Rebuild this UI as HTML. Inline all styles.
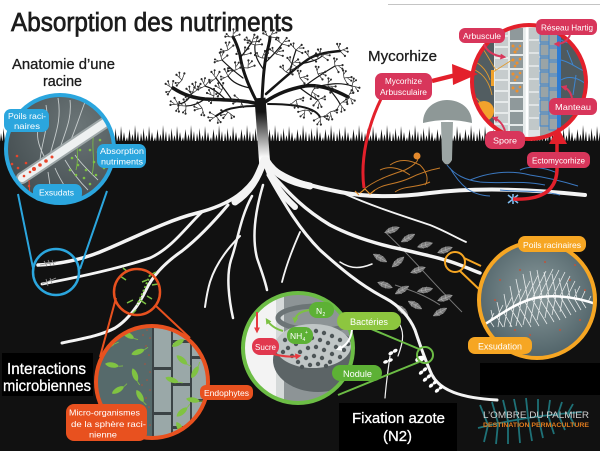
<!DOCTYPE html>
<html><head><meta charset="utf-8">
<style>html,body{margin:0;padding:0;background:#fff;overflow:hidden}svg{display:block}text{font-family:"Liberation Sans",Arial,sans-serif}</style>
</head><body>
<svg width="600" height="451" viewBox="0 0 600 451" xmlns="http://www.w3.org/2000/svg">
<defs>
<pattern id="grass" x="0" y="124" width="28" height="18" patternUnits="userSpaceOnUse">
<path d="M0,18 L1,9 L2.5,18 L3.5,4 L5,18 L6.5,11 L8,18 L9,2 L10.5,18 L12,8 L13.5,18 L15,13 L16,18 L17.5,5 L19,18 L20.5,10 L22,18 L23,1 L24.5,18 L26,7 L27,18 L28,18 Z" fill="#111"/>
</pattern>
<linearGradient id="trunk" x1="0" y1="112" x2="0" y2="158" gradientUnits="userSpaceOnUse"><stop offset="0" stop-color="#151515"/><stop offset="1" stop-color="#fff"/></linearGradient>
<radialGradient id="gBlue" cx="0.65" cy="0.3" r="0.8"><stop offset="0" stop-color="#6b7577"/><stop offset="1" stop-color="#3f484b"/></radialGradient>
<radialGradient id="gOr" cx="0.5" cy="0.45" r="0.6"><stop offset="0" stop-color="#8a9a9c"/><stop offset="1" stop-color="#4a5d63"/></radialGradient>
<clipPath id="cB"><circle cx="60" cy="149" r="54"/></clipPath>
<clipPath id="cR"><circle cx="152" cy="382" r="56"/></clipPath>
<clipPath id="cG"><circle cx="298" cy="348" r="55"/></clipPath>
<clipPath id="cO"><circle cx="537" cy="300" r="58"/></clipPath>
<clipPath id="cM"><circle cx="529" cy="82" r="57"/></clipPath>
<marker id="mp" viewBox="0 0 10 10" refX="6" refY="5" markerWidth="3" markerHeight="3" orient="auto"><path d="M0,0 L10,5 L0,10 z" fill="#d8365b"/></marker>
<marker id="mr" viewBox="0 0 10 10" refX="6" refY="5" markerWidth="3" markerHeight="3" orient="auto"><path d="M0,0 L10,5 L0,10 z" fill="#e63a3f"/></marker>
<marker id="mg" viewBox="0 0 10 10" refX="6" refY="5" markerWidth="3" markerHeight="3" orient="auto"><path d="M0,0 L10,5 L0,10 z" fill="#7cc143"/></marker>
<marker id="mw" viewBox="0 0 10 10" refX="6" refY="5" markerWidth="3" markerHeight="3" orient="auto"><path d="M0,0 L10,5 L0,10 z" fill="#fff"/></marker>
<g id="tw"><path d="M0,0 L-7,-3 M0,0 L3,-7 M0,0 L7,0 M-3,-1 L-5,-5 M2,-3 L6,-5" stroke="#2a2a2a" stroke-width="0.7" fill="none"/><g fill="#2a2a2a"><circle cx="-7" cy="-3" r="1.1"/><circle cx="3" cy="-7" r="1.1"/><circle cx="7" cy="0" r="1.1"/><circle cx="-5" cy="-5" r="1"/><circle cx="6" cy="-5" r="1"/></g></g>
<g id="bac"><path d="M-7,0 C-4,-3.5 4,-3.5 7,0 C4,3.5 -4,3.5 -7,0 Z" fill="#80c342"/><path d="M7,0 L11,-1" stroke="#80c342" stroke-width="0.8"/></g>
<g id="fn"><path d="M-8,0 C-4,-4 4,-4 8,0 C4,4 -4,4 -8,0 Z" fill="#7a7a7a"/><path d="M-8,0 L8,0 M-4,0 L-2,-3 M0,0 L2,-3 M-4,0 L-2,3 M0,0 L2,3" stroke="#b5b5b5" stroke-width="0.5" fill="none"/></g>
<g id="nd"><ellipse cx="-2.5" cy="0" rx="2.6" ry="1.7" fill="#fff"/><ellipse cx="2.5" cy="0" rx="2.6" ry="1.7" fill="#fff"/></g>
</defs>

<rect width="600" height="451" fill="#fff"/>
<line x1="388" y1="4.5" x2="600" y2="4.5" stroke="#c4c4c4" stroke-width="1"/>
<rect x="0" y="141" width="600" height="310" fill="#111"/>
<rect x="0" y="124" width="600" height="18" fill="url(#grass)"/>

<!-- Title -->
<text x="11" y="31" font-size="25.5" fill="#1c1c1c" stroke="#1c1c1c" stroke-width="0.7" textLength="282" lengthAdjust="spacingAndGlyphs">Absorption des nutriments</text>
<text x="12" y="69" font-size="14.5" fill="#1c1c1c" stroke="#1c1c1c" stroke-width="0.3" textLength="103" lengthAdjust="spacingAndGlyphs">Anatomie d’une</text>
<text x="43" y="86" font-size="14.5" fill="#1c1c1c" stroke="#1c1c1c" stroke-width="0.3" textLength="39" lengthAdjust="spacingAndGlyphs">racine</text>
<text x="368" y="61" font-size="15" fill="#1c1c1c" stroke="#1c1c1c" stroke-width="0.3" textLength="69" lengthAdjust="spacingAndGlyphs">Mycorhize</text>

<!-- Tree crown -->
<g fill="none" stroke="#151515" stroke-linecap="round">
<path d="M258,104 C245,100 225,100 205,99 C192,98 182,94 173,88" stroke-width="3.5"/>
<path d="M257,102 C248,85 242,70 240,55 C238,48 236,42 233,37" stroke-width="3"/>
<path d="M262,100 C263,80 264,62 268,48 C269,44 270,40 270,37" stroke-width="3"/>
<path d="M265,102 C278,93 290,89 305,86 C320,84 335,90 348,97" stroke-width="3.5"/>
<path d="M266,94 C282,80 295,68 310,58 C320,53 330,52 340,51" stroke-width="2.5"/>
<path d="M268,104 C290,104 303,106 312,110 C316,112 319,115 320,117" stroke-width="2"/>
<path d="M256,106 C240,106 232,108 226,110 C222,112 219,114 216,116" stroke-width="2"/>
<g stroke-width="1.2">
<path d="M225,99 C218,92 212,88 205,86"/>
<path d="M205,99 C198,104 192,106 186,106"/>
<path d="M243,78 C235,72 228,66 222,60"/>
<path d="M240,58 C245,52 248,48 252,42"/>
<path d="M264,70 C258,62 254,55 255,45"/>
<path d="M266,62 C272,56 278,50 282,44"/>
<path d="M290,72 C292,62 294,56 296,50"/>
<path d="M300,64 C310,62 318,60 322,56"/>
<path d="M305,86 C315,78 325,72 335,66"/>
<path d="M320,86 C330,84 340,82 352,86"/>
<path d="M330,90 C335,96 338,100 340,104"/>
<path d="M300,88 C308,94 314,98 318,100"/>
<path d="M232,100 C228,94 222,86 216,78"/>
<path d="M250,88 C240,86 232,82 228,76"/>
<path d="M190,97 C186,102 182,104 178,104"/>
</g>
</g>
<use href="#tw" transform="translate(172,88) rotate(-80)"/>
<use href="#tw" transform="translate(182,80) rotate(-70)"/>
<use href="#tw" transform="translate(186,106) rotate(-110)"/>
<use href="#tw" transform="translate(197,90) rotate(-60)"/>
<use href="#tw" transform="translate(178,104) rotate(-120)"/>
<use href="#tw" transform="translate(205,86) rotate(-50)"/>
<use href="#tw" transform="translate(222,60) rotate(-40)"/>
<use href="#tw" transform="translate(233,37) rotate(-20)"/>
<use href="#tw" transform="translate(228,50) rotate(-40)"/>
<use href="#tw" transform="translate(252,42) rotate(-5)"/>
<use href="#tw" transform="translate(216,78) rotate(-60)"/>
<use href="#tw" transform="translate(255,45) rotate(-5)"/>
<use href="#tw" transform="translate(270,37) rotate(5)"/>
<use href="#tw" transform="translate(282,44) rotate(15)"/>
<use href="#tw" transform="translate(296,50) rotate(25)"/>
<use href="#tw" transform="translate(310,58) rotate(30)"/>
<use href="#tw" transform="translate(322,56) rotate(35)"/>
<use href="#tw" transform="translate(340,51) rotate(45)"/>
<use href="#tw" transform="translate(335,66) rotate(60)"/>
<use href="#tw" transform="translate(348,97) rotate(95)"/>
<use href="#tw" transform="translate(352,86) rotate(80)"/>
<use href="#tw" transform="translate(340,104) rotate(120)"/>
<use href="#tw" transform="translate(318,100) rotate(130)"/>
<use href="#tw" transform="translate(320,117) rotate(150)"/>
<use href="#tw" transform="translate(305,110) rotate(165)"/>
<use href="#tw" transform="translate(216,116) rotate(-150)"/>
<use href="#tw" transform="translate(228,112) rotate(-165)"/>
<use href="#tw" transform="translate(228,76) rotate(-50)"/>
<use href="#tw" transform="translate(248,68) rotate(-20)"/>
<use href="#tw" transform="translate(286,72) rotate(20)"/>
<use href="#tw" transform="translate(300,78) rotate(50)"/>
<use href="#tw" transform="translate(214,96) rotate(-90)"/>
<use href="#tw" transform="translate(192,94) rotate(-70)"/>
<use href="#tw" transform="translate(236,70) rotate(-30)"/>
<use href="#tw" transform="translate(244,55) rotate(-15)"/>
<use href="#tw" transform="translate(262,58) rotate(0)"/>
<use href="#tw" transform="translate(276,54) rotate(15)"/>
<use href="#tw" transform="translate(292,64) rotate(30)"/>
<use href="#tw" transform="translate(318,74) rotate(50)"/>
<use href="#tw" transform="translate(328,86) rotate(70)"/>
<use href="#tw" transform="translate(312,92) rotate(100)"/>
<use href="#tw" transform="translate(296,100) rotate(140)"/>
<use href="#tw" transform="translate(240,100) rotate(-140)"/>
<use href="#tw" transform="translate(222,90) rotate(-80)"/>
<use href="#tw" transform="translate(344,78) rotate(60)"/>
<use href="#tw" transform="translate(202,108) rotate(-130)"/>
<use href="#tw" transform="translate(330,112) rotate(140)"/>

<!-- Trunk -->
<path d="M260,98 L265,168" stroke="url(#trunk)" stroke-width="11" fill="none"/>

<!-- Fern (gray) -->
<path d="M385,232 C410,255 430,280 462,312 M395,285 C410,290 425,295 440,305" stroke="#777" stroke-width="1" fill="none"/>
<use href="#fn" transform="translate(392,230) rotate(-20)"/>
<use href="#fn" transform="translate(408,238) rotate(-30)"/>
<use href="#fn" transform="translate(425,245) rotate(-15)"/>
<use href="#fn" transform="translate(445,250) rotate(-20)"/>
<use href="#fn" transform="translate(380,258) rotate(30)"/>
<use href="#fn" transform="translate(398,262) rotate(-40)"/>
<use href="#fn" transform="translate(418,270) rotate(-20)"/>
<use href="#fn" transform="translate(385,285) rotate(20)"/>
<use href="#fn" transform="translate(402,290) rotate(-30)"/>
<use href="#fn" transform="translate(425,290) rotate(-10)"/>
<use href="#fn" transform="translate(445,298) rotate(-20)"/>
<use href="#fn" transform="translate(415,305) rotate(30)"/>
<use href="#fn" transform="translate(440,312) rotate(-30)"/>
<use href="#fn" transform="translate(402,310) rotate(40)"/>

<!-- Roots -->
<g fill="none" stroke="#f4f4f4" stroke-linecap="round" stroke-linejoin="round">
<path d="M264,160 C252,192 228,205 197,213 C165,221 130,240 100,252 C80,260 60,264 38,265" stroke-width="3.5"/>
<path d="M202,212 C187,226 172,248 150,258 C120,268 85,276 42,284" stroke-width="2.8"/>
<path d="M228,205 C212,224 196,240 182,251 C166,262 153,275 146,290 C139,305 128,320 115,328 C100,336 80,339 62,343" stroke-width="3"/>
<path d="M252,196 C240,218 238,240 231,260 C226,276 229,300 233,318" stroke-width="2.5"/>
<path d="M263,185 C255,212 252,238 257,258 C261,270 265,280 267,290" stroke-width="2.5"/>
<path d="M240,236 C226,250 215,266 210,282 C207,292 206,300 205,307" stroke-width="2"/>
<path d="M266,162 C285,180 310,186 340,192 C370,198 400,197 430,193 C470,188 520,188 585,195" stroke-width="4"/>
<path d="M345,194 C372,206 400,215 430,225 C445,231 455,237 466,242" stroke-width="1.8"/>
<path d="M268,170 C290,195 305,210 330,225 C355,238 380,245 405,250 C425,255 442,258 460,265 C468,268 474,271 480,273" stroke-width="3.5"/>
<path d="M268,175 C285,205 300,230 320,250 C340,268 360,285 385,298 C400,306 410,318 415,330 C420,345 425,360 432,375 C440,390 460,398 497,400" stroke-width="3"/>
<path d="M300,232 C292,250 286,266 282,282" stroke-width="1.8"/>
<path d="M340,262 C352,270 362,268 372,264" stroke-width="1.5"/>
<path d="M390,356 C388,370 386,385 385,398" stroke-width="1.2"/>
<path d="M398,356 C402,345 405,335 400,325" stroke-width="1.2"/>
<path d="M264,160 C258,178 250,192 235,202" stroke-width="7"/>
<path d="M266,160 C275,175 290,182 310,186" stroke-width="7"/>
<path d="M266,162 C270,180 282,195 295,207" stroke-width="6"/>
</g>
<path d="M360,193 L365,189 L370,194 L375,190 M355,191 L359,195" stroke="#e8912a" stroke-width="1.2" fill="none"/>

<!-- nodules -->
<use href="#nd" transform="translate(393,352) rotate(-30)"/>
<use href="#nd" transform="translate(388,361) rotate(-20)"/>
<use href="#nd" transform="translate(423,371) rotate(-40)"/>
<use href="#nd" transform="translate(427,378) rotate(-40)"/>
<use href="#nd" transform="translate(433,384) rotate(-40)"/>
<use href="#nd" transform="translate(439,389) rotate(-40)"/>
<ellipse cx="420" cy="359" rx="5" ry="3" fill="#fff" transform="rotate(-20 420 359)"/>

<!-- Mushroom and hyphae -->
<path d="M363,190 C375,180 390,175 405,170 C415,165 420,160 417,156 M375,190 C385,183 395,185 410,178 C420,173 430,170 440,168 M390,165 C400,158 410,160 420,165 C425,170 430,178 425,185 M380,170 C390,165 400,168 410,175 M395,192 C405,185 418,188 430,182" stroke="#c57a28" stroke-width="1" fill="none"/>
<circle cx="417" cy="156" r="3.5" fill="#e3892c"/>
<path d="M447,165 C455,175 465,180 480,182 C500,184 520,180 545,185 M450,168 C460,185 470,195 490,196 M470,180 C490,172 510,170 530,175 C550,178 565,182 578,186 M500,190 C520,192 540,190 560,195 M520,170 C530,165 545,168 555,172" stroke="#3b78c0" stroke-width="1" fill="none"/>
<path d="M508,195 L518,203 M518,195 L508,203 M513,194 L513,204" stroke="#7fbdf0" stroke-width="1.6"/>
<path d="M441,122 L453,122 L452,160 Q447,169 442,160 Z" fill="#9ca5a4"/>
<path d="M423,123 C423,108 435,100 447,100 C460,100 472,108 472,123 Q447,117 423,123 Z" fill="#8e9897"/>

<!-- Mycorhize circle -->
<g clip-path="url(#cM)">
<rect x="470" y="23" width="118" height="118" fill="#525d61"/>
<rect x="494" y="23" width="33" height="118" fill="#e6eaea"/>
<g fill="#c6cccd">
<rect x="495" y="26" width="13" height="9"/><rect x="495" y="37" width="13" height="9"/><rect x="495" y="48" width="13" height="9"/>
<rect x="495" y="59" width="13" height="9"/><rect x="495" y="70" width="13" height="9"/><rect x="495" y="81" width="13" height="9"/>
<rect x="495" y="92" width="13" height="9"/><rect x="495" y="103" width="13" height="9"/><rect x="495" y="114" width="13" height="9"/>
<rect x="495" y="125" width="13" height="9"/>
</g>
<g fill="#8f999b">
<rect x="510" y="28" width="13" height="12"/><rect x="510" y="42" width="13" height="12"/><rect x="510" y="56" width="13" height="12"/>
<rect x="510" y="70" width="13" height="12"/><rect x="510" y="84" width="13" height="12"/><rect x="510" y="98" width="13" height="12"/>
<rect x="510" y="112" width="13" height="12"/><rect x="510" y="126" width="13" height="12"/>
</g>
<g fill="#ee8f2c">
<circle cx="513" cy="46" r="1.5"/><circle cx="517" cy="49" r="1.5"/><circle cx="515" cy="52" r="1.5"/><circle cx="520" cy="46" r="1.2"/>
<circle cx="513" cy="60" r="1.5"/><circle cx="517" cy="63" r="1.5"/><circle cx="520" cy="59" r="1.3"/><circle cx="515" cy="66" r="1.3"/>
<circle cx="513" cy="74" r="1.5"/><circle cx="517" cy="77" r="1.5"/><circle cx="520" cy="73" r="1.3"/><circle cx="515" cy="80" r="1.3"/>
<circle cx="513" cy="88" r="1.5"/><circle cx="517" cy="91" r="1.5"/><circle cx="520" cy="87" r="1.3"/>
</g>
<path d="M475,70 C485,75 490,85 492,95 M480,45 C488,55 492,65 496,70 M472,95 C480,100 485,108 483,110 M493,72 L512,60 M470,60 C478,62 486,68 490,80" stroke="#e19a2e" stroke-width="0.9" fill="none"/>
<rect x="491" y="70" width="3" height="16" fill="#f0a22c"/>
<circle cx="484" cy="111" r="10" fill="#f2a22c"/>
<rect x="528" y="23" width="12" height="118" fill="#dfe3e4"/>
<g fill="#c1c8c9">
<rect x="529" y="28" width="10" height="11"/><rect x="529" y="41" width="10" height="11"/><rect x="529" y="54" width="10" height="11"/>
<rect x="529" y="67" width="10" height="11"/><rect x="529" y="80" width="10" height="11"/><rect x="529" y="93" width="10" height="11"/>
<rect x="529" y="106" width="10" height="11"/><rect x="529" y="119" width="10" height="11"/>
</g>
<rect x="540" y="23" width="18" height="118" fill="#9aa4a6"/>
<g fill="none" stroke="#3e86d0" stroke-width="1">
<rect x="540" y="30" width="9" height="12"/><rect x="549" y="34" width="9" height="12"/>
<rect x="540" y="44" width="9" height="12"/><rect x="549" y="48" width="9" height="12"/>
<rect x="540" y="58" width="9" height="12"/><rect x="549" y="62" width="9" height="12"/>
<rect x="540" y="72" width="9" height="12"/><rect x="549" y="76" width="9" height="12"/>
<rect x="540" y="86" width="9" height="12"/><rect x="549" y="90" width="9" height="12"/>
<rect x="540" y="100" width="9" height="12"/><rect x="549" y="104" width="9" height="12"/>
<rect x="540" y="114" width="9" height="12"/><rect x="549" y="118" width="9" height="12"/>
</g>
<rect x="561" y="23" width="30" height="118" fill="#4f5a5e"/>
<path d="M561,40 C569,45 576,42 586,48 M561,60 C571,62 579,70 587,72 M561,80 C569,75 579,78 587,85 M561,100 C571,105 576,112 585,115 M567,50 L573,65 M576,75 L573,95" stroke="#3e86d0" stroke-width="1" fill="none"/>
<rect x="557" y="23" width="4" height="118" fill="#2f7cd2"/>
<line x1="527" y1="23" x2="527" y2="141" stroke="#fff" stroke-width="2.5"/>
</g>
<circle cx="529" cy="82" r="57" fill="none" stroke="#e3202b" stroke-width="4"/>
<g fill="none" stroke="#d8365b" stroke-width="2">
<path d="M484,44 Q488,55 504,57" marker-end="url(#mp)"/>
<path d="M570,35 Q566,44 556,44" marker-end="url(#mp)"/>
<path d="M572,98 Q570,89 563,87" marker-end="url(#mp)"/>
<path d="M505,131 Q502,121 494,118" marker-end="url(#mp)"/>
</g>
<!-- red connectors -->
<path d="M432,81 L456,75" stroke="#e3202b" stroke-width="4.5"/>
<polygon points="452,64 478,74 453,85" fill="#e3202b"/>
<path d="M381,99 C368,125 360,160 364,188" stroke="#e3202b" stroke-width="3" fill="none"/>
<path d="M513,199 C535,200 556,195 557,170 L557,142" stroke="#e3202b" stroke-width="3.5" fill="none"/>
<polygon points="558,127 567,144 549,144" fill="#e3202b"/>

<!-- Blue circle -->
<g clip-path="url(#cB)">
<rect x="0" y="90" width="120" height="120" fill="url(#gBlue)"/>
<g fill="none" stroke="#d9dede" stroke-width="0.9" opacity="0.85">
<path d="M40,160 C42,140 50,125 46,105"/><path d="M50,155 C55,135 62,120 58,98"/>
<path d="M60,148 C66,130 72,118 70,100"/><path d="M70,142 C76,128 80,115 85,102"/>
<path d="M45,158 C38,145 35,135 40,120"/><path d="M55,168 C60,180 66,188 72,198"/>
<path d="M65,160 C72,172 80,182 88,190"/><path d="M75,155 C82,165 90,172 98,180"/>
<path d="M48,172 C50,185 52,195 50,205"/>
</g>
<path d="M76,170 C80,155 74,145 80,135 M92,175 C96,160 90,145 95,128" stroke="#7cc143" stroke-width="0.8" fill="none"/>
<ellipse cx="80" cy="140" rx="3" ry="5" fill="none" stroke="#7cc143" stroke-width="1" transform="rotate(20 80 140)"/>
<ellipse cx="94" cy="130" rx="3" ry="5" fill="none" stroke="#7cc143" stroke-width="1" transform="rotate(20 94 130)"/>
<path d="M22,178 L118,114" stroke="#9fa8a9" stroke-width="12" stroke-linecap="round"/>
<path d="M22,178 L118,114" stroke="#eef1f1" stroke-width="8" stroke-linecap="round"/>
<path d="M29,180 L30,200" stroke="#e8452b" stroke-width="1"/>
<g fill="#e8452b">
<circle cx="7" cy="158" r="1.3"/><circle cx="12" cy="164" r="1.3"/><circle cx="9" cy="171" r="1.3"/><circle cx="18" cy="168" r="1.3"/>
<circle cx="5" cy="180" r="1.3"/><circle cx="14" cy="182" r="1.3"/><circle cx="24" cy="176" r="1.3"/><circle cx="11" cy="190" r="1.3"/>
<circle cx="20" cy="193" r="1.3"/><circle cx="29" cy="186" r="1.3"/><circle cx="26" cy="163" r="1.3"/><circle cx="17" cy="156" r="1.3"/>
<circle cx="33" cy="195" r="1.3"/><circle cx="6" cy="198" r="1.3"/><circle cx="22" cy="200" r="1.3"/><circle cx="30" cy="172" r="1.3"/>
<circle cx="34" cy="169" r="2"/><circle cx="40" cy="165" r="1.8"/><circle cx="46" cy="161" r="1.8"/><circle cx="52" cy="157" r="1.5"/>
</g>
<g fill="#7cc143">
<circle cx="78" cy="165" r="1.3"/><circle cx="86" cy="170" r="1.3"/><circle cx="94" cy="162" r="1.3"/><circle cx="84" cy="178" r="1.3"/>
<circle cx="96" cy="175" r="1.3"/><circle cx="104" cy="168" r="1.3"/><circle cx="72" cy="158" r="1.3"/><circle cx="90" cy="150" r="1.3"/>
<circle cx="100" cy="140" r="1.3"/><circle cx="80" cy="150" r="1.3"/><circle cx="98" cy="152" r="1.3"/><circle cx="76" cy="175" r="1.3"/>
<circle cx="90" cy="184" r="1.3"/><circle cx="70" cy="170" r="1.3"/><circle cx="106" cy="155" r="1.3"/>
</g>
</g>
<circle cx="60" cy="149" r="54" fill="none" stroke="#2ba6de" stroke-width="4"/>
<path d="M18,194 L33,268 M107,191 L80,269" stroke="#2ba6de" stroke-width="2"/>
<path d="M40,265 L56,262 M44,261 L47,266 M48,260 L51,266 M52,260 L54,265 M42,284 L56,278 M46,279 L48,286 M50,278 L52,284" stroke="#999" stroke-width="0.8"/>
<circle cx="56" cy="272" r="23" fill="none" stroke="#2ba6de" stroke-width="2.5"/>

<!-- Red-orange circle -->
<path d="M126,280 L120,276 M128,272 L123,268 M150,275 L156,272 M152,285 L158,284 M140,300 L146,304 M133,300 L127,303 M142,282 L147,280 M136,310 L132,314 M147,296 L152,299" stroke="#7cc143" stroke-width="1.5"/>
<path d="M150,275 C146,285 142,295 137,305" stroke="#7cc143" stroke-width="2" stroke-dasharray="2 2" fill="none"/>
<circle cx="137" cy="292" r="23" fill="none" stroke="#e8511f" stroke-width="2.5"/>
<path d="M116,298 L100,357 M156,306 L190,338" stroke="#e8511f" stroke-width="2"/>
<g clip-path="url(#cR)">
<rect x="94" y="324" width="116" height="116" fill="#566a6b"/>
<rect x="152" y="318" width="60" height="130" fill="#3b4345"/>
<g fill="#9aa8a8">
<rect x="154" y="322" width="17" height="45"/><rect x="154" y="370" width="17" height="42"/><rect x="154" y="415" width="17" height="30"/>
<rect x="173" y="318" width="17" height="22"/><rect x="173" y="343" width="17" height="40"/><rect x="173" y="386" width="17" height="40"/><rect x="173" y="429" width="17" height="20"/>
<rect x="192" y="318" width="18" height="38"/><rect x="192" y="359" width="18" height="40"/><rect x="192" y="402" width="18" height="45"/>
</g>
<g fill="#b2503a">
<circle cx="147" cy="330" r="0.8"/><circle cx="150" cy="338" r="0.8"/><circle cx="146" cy="346" r="0.8"/><circle cx="149" cy="355" r="0.8"/>
<circle cx="145" cy="364" r="0.8"/><circle cx="150" cy="372" r="0.8"/><circle cx="147" cy="380" r="0.8"/><circle cx="150" cy="390" r="0.8"/>
<circle cx="146" cy="398" r="0.8"/><circle cx="149" cy="407" r="0.8"/><circle cx="145" cy="416" r="0.8"/><circle cx="150" cy="425" r="0.8"/>
<circle cx="143" cy="335" r="0.8"/><circle cx="142" cy="385" r="0.8"/><circle cx="143" cy="410" r="0.8"/>
</g>
<use href="#bac" transform="translate(128,335) rotate(30)"/>
<use href="#bac" transform="translate(138,352) rotate(-20)"/>
<use href="#bac" transform="translate(112,365) rotate(10)"/>
<use href="#bac" transform="translate(135,375) rotate(70)"/>
<use href="#bac" transform="translate(118,390) rotate(-30)"/>
<use href="#bac" transform="translate(140,396) rotate(60)"/>
<use href="#bac" transform="translate(113,410) rotate(20)"/>
<use href="#bac" transform="translate(130,416) rotate(-50)"/>
<use href="#bac" transform="translate(108,345) rotate(-10)"/>
<use href="#bac" transform="translate(178,343) rotate(-30)"/>
<use href="#bac" transform="translate(182,360) rotate(40)"/>
<use href="#bac" transform="translate(195,372) rotate(-60)"/>
<use href="#bac" transform="translate(172,380) rotate(20)"/>
<use href="#bac" transform="translate(193,400) rotate(10)"/>
<use href="#bac" transform="translate(182,412) rotate(-40)"/>
<use href="#bac" transform="translate(180,428) rotate(60)"/>
</g>
<circle cx="152" cy="382" r="56" fill="none" stroke="#e8511f" stroke-width="4"/>

<!-- Green circle -->
<path d="M345,318 L419,349 M338,395 L419,362" stroke="#6cbd45" stroke-width="2"/>
<circle cx="425" cy="355" r="8" fill="none" stroke="#6cbd45" stroke-width="2"/>
<g clip-path="url(#cG)">
<rect x="240" y="290" width="116" height="116" fill="#8d9496"/>
<rect x="240" y="290" width="36" height="116" fill="#f3f3f3"/>
<rect x="276" y="290" width="8" height="116" fill="#d5d9d9"/>
<ellipse cx="318" cy="318" rx="40" ry="12" fill="none" stroke="#6c7476" stroke-width="5"/>
<ellipse cx="318" cy="360" rx="45" ry="32" fill="#5c6466"/>
<ellipse cx="313" cy="346" rx="38" ry="22" fill="#c0c6c6"/>
<g fill="#4d5557">
<circle cx="285" cy="340" r="2.2"/><circle cx="292" cy="335" r="2.2"/><circle cx="300" cy="332" r="2.2"/><circle cx="308" cy="330" r="2.2"/>
<circle cx="316" cy="331" r="2.2"/><circle cx="324" cy="333" r="2.2"/><circle cx="332" cy="336" r="2.2"/><circle cx="340" cy="340" r="2.2"/>
<circle cx="288" cy="348" r="2.2"/><circle cx="296" cy="344" r="2.2"/><circle cx="304" cy="340" r="2.2"/><circle cx="312" cy="338" r="2.2"/>
<circle cx="320" cy="340" r="2.2"/><circle cx="328" cy="343" r="2.2"/><circle cx="336" cy="347" r="2.2"/><circle cx="344" cy="350" r="2.2"/>
<circle cx="292" cy="356" r="2.2"/><circle cx="300" cy="352" r="2.2"/><circle cx="308" cy="348" r="2.2"/><circle cx="316" cy="347" r="2.2"/>
<circle cx="324" cy="350" r="2.2"/><circle cx="332" cy="354" r="2.2"/><circle cx="340" cy="357" r="2.2"/><circle cx="298" cy="362" r="2.2"/>
<circle cx="306" cy="358" r="2.2"/><circle cx="314" cy="356" r="2.2"/><circle cx="322" cy="358" r="2.2"/><circle cx="330" cy="362" r="2.2"/>
<circle cx="310" cy="365" r="2.2"/><circle cx="318" cy="364" r="2.2"/><circle cx="326" cy="366" r="2.2"/><circle cx="283" cy="352" r="2.2"/>
<circle cx="348" cy="344" r="2.2"/><circle cx="302" cy="367" r="2.2"/>
</g>
</g>
<circle cx="298" cy="348" r="55" fill="none" stroke="#6cbd45" stroke-width="4"/>
<g fill="none" stroke-width="2">
<path d="M257,312 L257,331" stroke="#e63a3f" marker-end="url(#mr)"/>
<path d="M283,331 Q272,328 267,320" stroke="#7cc143" marker-end="url(#mg)"/>
<path d="M311,310 Q296,311 295,321" stroke="#7cc143" marker-end="url(#mg)"/>
<path d="M270,353 Q285,358 299,356" stroke="#e63a3f" marker-end="url(#mr)"/>
<path d="M352,330 Q350,345 338,349" stroke="#fff" marker-end="url(#mw)"/>
</g>

<!-- Orange circle -->
<path d="M464,258 L481,266 M460,271 L482,292" stroke="#f6a623" stroke-width="2"/>
<circle cx="455" cy="262" r="10" fill="none" stroke="#f6a623" stroke-width="2"/>
<g clip-path="url(#cO)">
<rect x="477" y="240" width="120" height="120" fill="url(#gOr)"/>
<g fill="#c0533a">
<circle cx="500" cy="280" r="1"/><circle cx="520" cy="270" r="1"/><circle cx="545" cy="262" r="1"/><circle cx="570" cy="280" r="1"/>
<circle cx="580" cy="320" r="1"/><circle cx="560" cy="330" r="1"/><circle cx="530" cy="335" r="1"/><circle cx="505" cy="340" r="1"/>
<circle cx="495" cy="300" r="1"/><circle cx="585" cy="290" r="1"/><circle cx="515" cy="330" r="1"/><circle cx="575" cy="265" r="1"/>
</g>
<path d="M490,321 L494,313 M497,317 L503,305 M504,313 L512,297 M511,309 L521,289 M518,305 L530,281 M525,302 L538,275 M532,299 L546,271 M539,297 L553,269 M546,296 L559,270 M553,296 L565,272 M560,296 L570,276 M567,297 L575,281 M574,298 L580,286 M581,300 L585,291 M588,302 L591,296 M493,319 L491,310 M500,315 L497,302 M507,311 L504,294 M514,307 L510,286 M521,303 L516,279 M528,300 L523,274 M535,298 L530,271 M542,296 L537,270 M549,296 L544,272 M556,296 L552,274 M563,296 L559,278 M570,297 L567,283 M577,299 L575,289 M490,321 L494,327 M497,317 L503,327 M504,313 L512,327 M511,309 L522,327 M518,305 L531,327 M525,302 L539,326 M532,299 L547,324 M539,297 L554,322 M546,296 L560,320 M553,296 L566,318 M560,296 L571,315 M567,297 L576,312 M574,298 L581,310 M581,300 L586,308 M500,315 L498,327 M507,311 L504,327 M514,307 L510,327 M521,303 L516,326 M528,300 L523,325 M535,298 L530,323 M542,296 L537,320 M549,296 L545,318 M556,296 L552,315 M563,296 L560,312" stroke="#f2f4f4" stroke-width="0.8" opacity="0.9" fill="none"/>
<path d="M482,326 C500,315 515,303 535,298 C555,294 575,297 596,304" stroke="#fff" stroke-width="2.5" fill="none"/>
</g>
<circle cx="537" cy="300" r="58" fill="none" stroke="#f6a623" stroke-width="4"/>

<!-- Black boxes -->
<rect x="2" y="353" width="91" height="43" fill="#000"/>
<text x="7" y="374" font-size="16" fill="#fff" stroke="#fff" stroke-width="0.3" textLength="79" lengthAdjust="spacingAndGlyphs">Interactions</text>
<text x="3" y="391" font-size="16" fill="#fff" stroke="#fff" stroke-width="0.3" textLength="88" lengthAdjust="spacingAndGlyphs">microbiennes</text>
<rect x="339" y="403" width="118" height="48" fill="#000"/>
<text x="352" y="423" font-size="15" fill="#fff" stroke="#fff" stroke-width="0.3" textLength="93" lengthAdjust="spacingAndGlyphs">Fixation azote</text>
<text x="383" y="441" font-size="15" fill="#fff" stroke="#fff" stroke-width="0.3" textLength="29" lengthAdjust="spacingAndGlyphs">(N2)</text>
<rect x="480" y="363" width="120" height="32" fill="#000"/>

<!-- Logo -->
<g stroke="#1e7177" stroke-width="1.8" fill="none">
<path d="M478,428 Q525,416 582,412"/>
<path d="M488,425 L480,405 M498,423 L492,402 M508,421 L503,400 M518,419 L514,399 M528,417 L526,398 M538,416 L538,399 M548,415 L550,400 M558,414 L562,402 M568,413 L573,404"/>
<path d="M488,425 L484,442 M498,423 L496,444 M508,421 L508,444 M518,419 L520,443 M528,417 L532,441 M538,416 L543,438 M548,415 L554,434 M558,414 L565,430 M568,413 L575,426"/>
</g>
<text x="483" y="418" font-size="9" fill="#cfcfcf" textLength="106" lengthAdjust="spacingAndGlyphs">L’OMBRE DU PALMIER</text>
<text x="483" y="427" font-size="6.5" font-weight="bold" fill="#e07b1e" textLength="106" lengthAdjust="spacingAndGlyphs">DESTINATION PERMACULTURE</text>

<!-- Labels: blue -->
<g fill="#2ba6de">
<rect x="4" y="109" width="45" height="23" rx="7"/>
<rect x="97" y="144" width="49" height="24" rx="7"/>
<rect x="33" y="184" width="49" height="17" rx="7"/>
</g>
<g fill="#fff" font-size="8.3">
<text x="8" y="119" textLength="38" lengthAdjust="spacingAndGlyphs">Poils raci-</text>
<text x="14" y="129" textLength="26" lengthAdjust="spacingAndGlyphs">naires</text>
<text x="100" y="154" textLength="44" lengthAdjust="spacingAndGlyphs">Absorption</text>
<text x="101" y="164.5" textLength="42" lengthAdjust="spacingAndGlyphs">nutriments</text>
<text x="39" y="195.5" textLength="35" lengthAdjust="spacingAndGlyphs">Exsudats</text>
</g>

<!-- Labels: pink -->
<g fill="#d8365b">
<rect x="459" y="28" width="46" height="15" rx="6"/>
<rect x="536" y="19" width="61" height="16" rx="6"/>
<rect x="375" y="73" width="57" height="27" rx="7"/>
<rect x="549" y="98" width="48" height="17" rx="6"/>
<rect x="485" y="131" width="40" height="18" rx="7"/>
<rect x="527" y="152" width="63" height="16" rx="6"/>
</g>
<g fill="#fff" font-size="8.5">
<text x="463" y="39" textLength="38" lengthAdjust="spacingAndGlyphs">Arbuscule</text>
<text x="541" y="30.5" textLength="52" lengthAdjust="spacingAndGlyphs">Réseau Hartig</text>
<text x="385" y="84" textLength="37" lengthAdjust="spacingAndGlyphs">Mycorhize</text>
<text x="380" y="95" textLength="47" lengthAdjust="spacingAndGlyphs">Arbusculaire</text>
<text x="555" y="110" textLength="36" lengthAdjust="spacingAndGlyphs">Manteau</text>
<text x="493" y="143.5" textLength="24" lengthAdjust="spacingAndGlyphs">Spore</text>
<text x="532" y="163.5" textLength="53" lengthAdjust="spacingAndGlyphs">Ectomycorhize</text>
</g>

<!-- Labels: green -->
<rect x="309" y="302" width="25" height="16" rx="8" fill="#5db135"/>
<rect x="287" y="327" width="26" height="17" rx="8" fill="#5db135"/>
<rect x="252" y="338" width="27" height="17" rx="8" fill="#e1384e"/>
<rect x="337" y="312" width="64" height="18" rx="9" fill="#8dc63f"/>
<rect x="332" y="365" width="50" height="16" rx="8" fill="#5db135"/>
<g fill="#fff">
<text x="316" y="314" font-size="8.5">N</text><text x="322.5" y="316" font-size="5">2</text>
<text x="290" y="339" font-size="8.5">NH</text><text x="302.5" y="341" font-size="5">4</text><text x="305" y="334" font-size="5">+</text>
<text x="255" y="350" font-size="8" textLength="21" lengthAdjust="spacingAndGlyphs">Sucre</text>
<text x="350" y="325" font-size="9" textLength="38" lengthAdjust="spacingAndGlyphs">Bactéries</text>
<text x="343" y="377" font-size="9" textLength="29" lengthAdjust="spacingAndGlyphs">Nodule</text>
</g>

<!-- Labels: orange -->
<rect x="518" y="236" width="68" height="16" rx="7" fill="#f6a623"/>
<rect x="468" y="337" width="64" height="17" rx="7" fill="#f6a623"/>
<g fill="#fff">
<text x="523" y="248" font-size="8.5" textLength="58" lengthAdjust="spacingAndGlyphs">Poils racinaires</text>
<text x="478" y="349.5" font-size="9" textLength="44" lengthAdjust="spacingAndGlyphs">Exsudation</text>
</g>

<!-- Labels: red-orange -->
<rect x="200" y="385" width="53" height="15" rx="6" fill="#e8511f"/>
<rect x="66" y="404" width="81" height="37" rx="8" fill="#e8511f"/>
<g fill="#fff" font-size="8.5">
<text x="204" y="396" textLength="45" lengthAdjust="spacingAndGlyphs">Endophytes</text>
<text x="69" y="415.5" textLength="71" lengthAdjust="spacingAndGlyphs">Micro-organismes</text>
<text x="71" y="427" textLength="75" lengthAdjust="spacingAndGlyphs">de la sphère raci-</text>
<text x="89" y="437.5" textLength="28" lengthAdjust="spacingAndGlyphs">nienne</text>
</g>
</svg>
</body></html>
